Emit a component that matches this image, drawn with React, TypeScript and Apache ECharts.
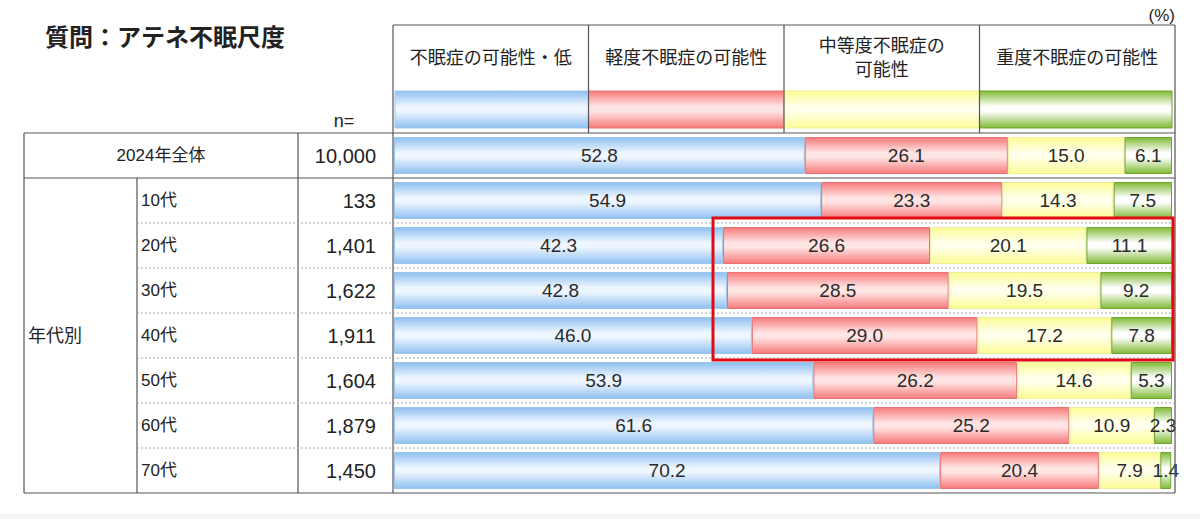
import React, { useEffect, useRef } from "react";
import * as echarts from "echarts";

const categories = ["2024年全体", "10代", "20代", "30代", "40代", "50代", "60代", "70代"];
const sampleSizes = ["10,000", "133", "1,401", "1,622", "1,911", "1,604", "1,879", "1,450"];
const seriesNames = ["不眠症の可能性・低", "軽度不眠症の可能性", "中等度不眠症の可能性", "重度不眠症の可能性"];
const headerLabels = ["不眠症の可能性・低", "軽度不眠症の可能性", "中等度不眠症の\n可能性", "重度不眠症の可能性"];
const lowValues = [52.8, 54.9, 42.3, 42.8, 46.0, 53.9, 61.6, 70.2];
const mildValues = [26.1, 23.3, 26.6, 28.5, 29.0, 26.2, 25.2, 20.4];
const moderateValues = [15.0, 14.3, 20.1, 19.5, 17.2, 14.6, 10.9, 7.9];
const severeValues = [6.1, 7.5, 11.1, 9.2, 7.8, 5.3, 2.3, 1.4];
const groupLabel = "年代別";
const titleText = "質問：アテネ不眠尺度";

const FONT = '"Liberation Sans", Arial, "Noto Sans CJK JP", sans-serif';

const palettes = [
  { edge: "#8fc0f0", mid: "#eef6ff", border: "#9cc6ee" },
  { edge: "#f77a7a", mid: "#ffe4e4", border: "#e87272" },
  { edge: "#fcfc94", mid: "#ffffec", border: "#efef9a" },
  { edge: "#80ba36", mid: "#ffffff", border: "#6fa52a" },
];

function grad(p: { edge: string; mid: string }) {
  return new echarts.graphic.LinearGradient(0, 0, 0, 1, [
    { offset: 0, color: p.edge },
    { offset: 0.42, color: p.mid },
    { offset: 0.55, color: p.mid },
    { offset: 1, color: p.edge },
  ]);
}

export default function App() {
  const ref = useRef<HTMLDivElement>(null);
  useEffect(() => {
    if (!ref.current) return;
    const chart = echarts.init(ref.current, null, { renderer: "svg" });

    const gridLeft = 394;
    const gridRight = 1172;
    const gridTop = 133;
    const gridBottom = 493;
    const rowH = (gridBottom - gridTop) / categories.length;
    const dataSets = [lowValues, mildValues, moderateValues, severeValues];

    const line = (x1: number, y1: number, x2: number, y2: number, dashed = false) => ({
      type: "line",
      z: 50,
      shape: { x1, y1, x2, y2 },
      style: dashed
        ? { stroke: "#a8a8a8", lineWidth: 1, lineDash: [2, 2] }
        : { stroke: "#555", lineWidth: 1.2 },
      silent: true,
    });

    const text = (x: number, y: number, t: string, size: number, align = "left", extra: any = {}) => ({
      type: "text",
      z: 60,
      x,
      y,
      style: {
        text: t,
        fill: "#222",
        font: `${extra.weight || "normal"} ${size}px ${FONT}`,
        align,
        verticalAlign: "middle",
        lineHeight: extra.lineHeight || size * 1.3,
      },
      silent: true,
    });

    const graphics: any[] = [];
    graphics.push({ type: "rect", z: 0, shape: { x: 0, y: 514, width: 1200, height: 5 }, style: { fill: "#f5f5f5" } });

    graphics.push(text(45, 37, titleText, 24, "left", { weight: "bold" }));
    graphics.push(text(1175, 15, "(%)", 17, "right"));
    graphics.push(text(344, 121, "n=", 18, "center"));

    const colW = (1175 - 393) / 4;
    graphics.push(line(393, 25, 1175, 25));
    for (let i = 0; i <= 4; i++) {
      const x = 393 + i * colW;
      graphics.push(line(x, 25, x, i === 0 || i === 4 ? gridBottom : gridTop));
    }
    headerLabels.forEach((h, i) => {
      graphics.push(text(393 + (i + 0.5) * colW, 58, h, 18, "center", { lineHeight: 24 }));
      const x0 = i === 0 ? 395 : 393 + i * colW;
      const x1 = i === 3 ? 1172 : 393 + (i + 1) * colW;
      graphics.push({
        type: "rect",
        z: 10,
        shape: { x: x0, y: 91, width: x1 - x0, height: 37 },
        style: { fill: grad(palettes[i]), stroke: palettes[i].border, lineWidth: 1 },
        silent: true,
      });
    });

    graphics.push(line(24, gridTop, 1175, gridTop));
    graphics.push(line(24, gridTop + rowH, 1175, gridTop + rowH));
    graphics.push(line(24, gridBottom, 1175, gridBottom));
    graphics.push(line(24, gridTop, 24, gridBottom));
    graphics.push(line(137, gridTop + rowH, 137, gridBottom));
    graphics.push(line(298, gridTop, 298, gridBottom));
    for (let i = 2; i < categories.length; i++) {
      graphics.push(line(137, gridTop + i * rowH, 1175, gridTop + i * rowH, true));
    }

    categories.forEach((c, i) => {
      const y = gridTop + (i + 0.5) * rowH;
      if (i === 0) graphics.push(text(161, y, c, 17, "center"));
      else graphics.push(text(141, y, c, 17, "left"));
      graphics.push(text(376, y, sampleSizes[i], 20, "right"));
    });
    graphics.push(text(28, gridTop + rowH + (gridBottom - gridTop - rowH) / 2, groupLabel, 18, "left"));

    graphics.push({
      type: "rect",
      z: 100,
      shape: { x: 713, y: 218, width: 460, height: 142 },
      style: { fill: "none", stroke: "#e00a14", lineWidth: 3 },
      silent: true,
    });

    chart.setOption({
      animation: false,
      backgroundColor: "#ffffff",
      grid: { left: gridLeft, width: gridRight - gridLeft, top: gridTop, height: gridBottom - gridTop },
      xAxis: { type: "value", min: 0, max: 100, show: false },
      yAxis: { type: "category", data: categories, inverse: true, show: false },
      graphic: graphics,
      series: dataSets.map((d, i) => ({
        name: seriesNames[i],
        type: "bar",
        stack: "total",
        barWidth: 37,
        data: d,
        itemStyle: { color: grad(palettes[i]), borderColor: palettes[i].border, borderWidth: 1 },
        label: {
          show: true,
          position: "inside",
          color: "#2a2a2a",
          fontSize: 19,
          fontFamily: FONT,
          formatter: (p: any) => Number(p.value).toFixed(1),
        },
      })),
    });
    return () => chart.dispose();
  }, []);

  return (
    <div
      ref={ref}
      style={{ position: "absolute", left: 0, top: 0, width: 1200, height: 519, background: "#fff" }}
    />
  );
}
